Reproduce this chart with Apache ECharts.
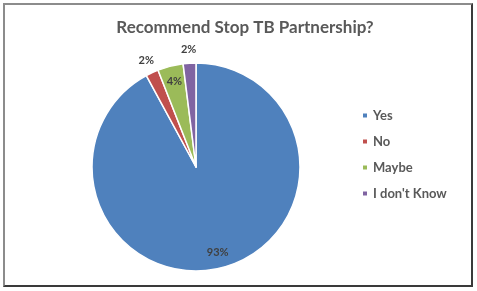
<!DOCTYPE html>
<html>
<head>
<meta charset="utf-8">
<script src="https://cdn.jsdelivr.net/npm/echarts@6/dist/echarts.min.js"></script>
<style>
  html, body { margin: 0; padding: 0; background: #ffffff; }
  #wrap { position: relative; width: 477px; height: 291px; }
  #frame { position: absolute; left: 3px; top: 3px; width: 466px; height: 280px;
           border-top: 2px solid #8c8c8c; border-left: 2px solid #8c8c8c;
           border-right: 2px solid #3a3a3a; border-bottom: 2px solid #3a3a3a; }
  #chart { position: absolute; left: 0; top: 0; width: 477px; height: 291px; }
</style>
</head>
<body>
<div id="wrap">
  <div id="frame"></div>
  <div id="chart"></div>
</div>
<script>
const titleText = 'Recommend Stop TB Partnership?';
const categories = ['Yes', 'No', 'Maybe', "I don't Know"];
const percentValues = [93, 2, 4, 2];
const colors = ['#4F81BD', '#C0504D', '#9BBB59', '#8064A2'];

const insideLabelIdx = [0, 2];
const labelFont = { fontFamily: 'Lato', fontSize: 11, fontWeight: 'bold', color: '#404040' };

const center = [196, 167];
const R = 104;

const mainData = categories.map((c, i) => ({
  name: c, value: percentValues[i], itemStyle: { color: colors[i] }
}));
const labelData = (inside) => categories.map((c, i) => ({
  name: c, value: percentValues[i],
  label: { show: insideLabelIdx.includes(i) === inside }
}));

const labelSeries = (radius, inside) => ({
  type: 'pie', center: center, radius: radius, startAngle: 90, clockwise: true,
  silent: true, animation: false, avoidLabelOverlap: false,
  itemStyle: { color: 'rgba(0,0,0,0)', borderWidth: 0 },
  label: Object.assign({ position: 'inside', formatter: '{c}%' }, labelFont),
  labelLine: { show: false },
  emphasis: { disabled: true },
  data: labelData(inside)
});

const chart = echarts.init(document.getElementById('chart'), null, { renderer: 'canvas' });
chart.setOption({
  backgroundColor: 'transparent',
  animation: false,
  title: {
    text: titleText, left: 240, top: 14, textAlign: 'center',
    textStyle: { fontFamily: 'Lato', fontSize: 17, fontWeight: 'bold', color: '#595959' }
  },
  legend: {
    orient: 'vertical', left: 356, top: 103,
    itemWidth: 6, itemHeight: 6, itemGap: 11, itemTextGap: 4, icon: 'rect',
    data: categories,
    textStyle: { fontFamily: 'Lato', fontSize: 13, fontWeight: 'bold', color: '#595959', lineHeight: 15 }
  },
  series: [
    {
      type: 'pie', name: 'main', center: center, radius: R, startAngle: 90, clockwise: true,
      avoidLabelOverlap: false,
      itemStyle: { borderColor: '#ffffff', borderWidth: 1.5 },
      label: { show: false }, labelLine: { show: false },
      data: mainData
    },
    labelSeries([66, R], true),
    labelSeries([R, 126], false)
  ]
});
</script>
</body>
</html>
